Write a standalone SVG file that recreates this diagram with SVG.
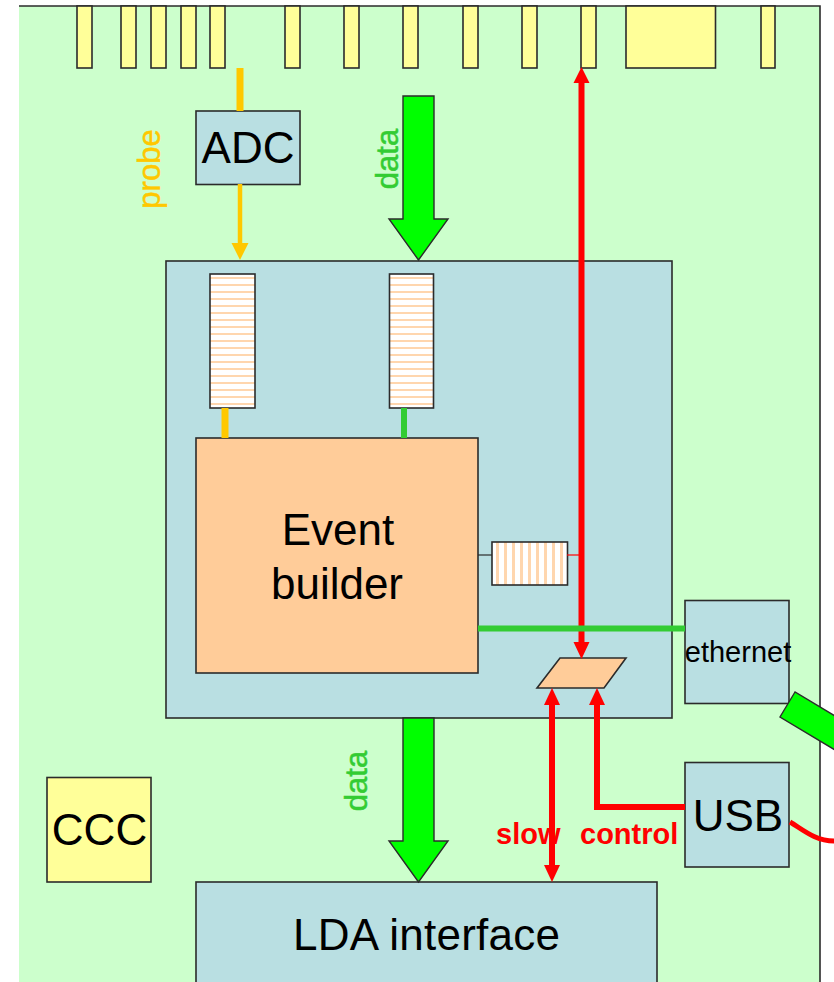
<svg xmlns="http://www.w3.org/2000/svg" width="834" height="982" viewBox="0 0 834 982">
<style>
text{font-family:"Liberation Sans",Arial,sans-serif;fill:#000}
.box{stroke:#2b2b2b;stroke-width:1.6}
.blue{fill:#B9DFE2}
.yellow{fill:#FFFF99}
.peach{fill:#FFCC99}
.big{font-size:44px;text-anchor:middle}
.lab{font-size:31px;text-anchor:middle;stroke-width:.5px}
.red{stroke:#FF0000;fill:none}
.redhead{fill:#FF0000}
.fat{fill:#00FF00;stroke:#2b2b2b;stroke-width:1.4}
</style>
<defs>
<pattern id="hstripe" patternUnits="userSpaceOnUse" x="0" y="274" width="10" height="7"><rect width="10" height="7" fill="#FFFFFF"/><rect y="3" width="10" height="2" fill="#FFD6AE"/></pattern>
<pattern id="vstripe" patternUnits="userSpaceOnUse" x="492" y="0" width="8" height="10"><rect width="8" height="10" fill="#FFFFFF"/><rect x="4" width="3" height="10" fill="#FFD6AE"/></pattern>
</defs>
<rect width="834" height="982" fill="#FFFFFF"/>
<g id="board">
<rect x="19" y="6" width="801" height="976" fill="#CCFFCC"/>
<path d="M19 6H820V982" fill="none" stroke="#2b2b2b" stroke-width="1.6"/>
</g>
<g id="pins">
<rect class="box yellow" x="77" y="6" width="15" height="62"/>
<rect class="box yellow" x="121" y="6" width="15" height="62"/>
<rect class="box yellow" x="151" y="6" width="15" height="62"/>
<rect class="box yellow" x="181" y="6" width="15" height="62"/>
<rect class="box yellow" x="210" y="6" width="15" height="62"/>
<rect class="box yellow" x="285" y="6" width="15" height="62"/>
<rect class="box yellow" x="344" y="6" width="15" height="62"/>
<rect class="box yellow" x="403" y="6" width="15" height="62"/>
<rect class="box yellow" x="463" y="6" width="15" height="62"/>
<rect class="box yellow" x="522" y="6" width="15" height="62"/>
<rect class="box yellow" x="581" y="6" width="15" height="62"/>
<rect class="box yellow" x="626" y="6" width="89.500" height="62"/>
<rect class="box yellow" x="761" y="6" width="14" height="62"/>
</g>
<g id="adc"><rect class="box blue" x="196" y="111" width="104" height="73.500"/><text class="big" x="248" y="163">ADC</text></g>
<g id="fpga"><rect class="box blue" x="166" y="261" width="506" height="457"/></g>
<g id="fifo-probe"><rect class="box" fill="url(#hstripe)" x="210" y="274" width="45" height="134"/></g>
<g id="fifo-data"><rect class="box" fill="url(#hstripe)" x="389.500" y="274" width="44" height="134"/></g>
<g id="event-builder"><rect class="box peach" x="196" y="438" width="282" height="235"/><text class="big" x="338" y="545">Event</text><text class="big" x="337" y="599" textLength="132">builder</text></g>
<g id="fifo-out"><rect class="box" fill="url(#vstripe)" x="492" y="542" width="75.500" height="43"/></g>
<g id="mux"><path class="box peach" d="M560 658H626L604 688H537Z"/></g>
<g id="ethernet"><rect class="box blue" x="685" y="600.500" width="104" height="103"/></g>
<g id="usb"><rect class="box blue" x="685" y="762.500" width="104" height="104.500"/><text class="big" x="738" y="831">USB</text></g>
<g id="ccc"><rect class="box yellow" x="47" y="777.500" width="104" height="104.500"/><text class="big" x="99.500" y="845">CCC</text></g>
<g id="lda"><rect class="box blue" x="196" y="882" width="461" height="110"/><text class="big" x="426.500" y="950" textLength="267">LDA interface</text></g>
<g id="connectors">
<path d="M240 68V111" stroke="#FFC800" stroke-width="7" fill="none"/>
<path d="M240 184V246" stroke="#FFC800" stroke-width="4.500" fill="none"/>
<path d="M231.500 243H248.500L240 260Z" fill="#FFC800"/>
<path d="M225 408V438" stroke="#FFC800" stroke-width="7" fill="none"/>
<path d="M404 408V438" stroke="#33CC33" stroke-width="6" fill="none"/>
<path class="fat" d="M403 96H434V219H448L418.500 260L389 219H403Z"/>
<path class="fat" d="M403 718H434V841H448L418.500 882L389 841H403Z"/>
<path d="M478 555H492" stroke="#2b2b2b" stroke-width="1.200" fill="none"/>
<path class="red" d="M567 555H581" stroke-width="1.200"/>
<path class="red" d="M581.500 82V645" stroke-width="6"/>
<path class="redhead" d="M581.500 67L589.500 83H573.500Z"/>
<path class="redhead" d="M581.500 659L573.500 642H589.500Z"/>
<path d="M478 628.500H685" stroke="#33CC33" stroke-width="6" fill="none"/>
<path class="red" d="M552 700V870" stroke-width="6"/>
<path class="redhead" d="M552 688L560 705H544Z"/>
<path class="redhead" d="M552 882L544 865H560Z"/>
<path class="red" d="M597 700V807H685" stroke-width="6"/>
<path class="redhead" d="M597 688L605 705H589Z"/>
<path class="red" d="M790 822C802 829 815 841 834 841" stroke-width="5"/>
<path class="fat" d="M795 692L780 717L860 765L875 740Z"/>
</g>
<g id="labels">
<text class="lab" transform="translate(160 169) rotate(-90)" style="fill:#FFC800;stroke:#FFC800">probe</text>
<text class="lab" transform="translate(398 159) rotate(-90)" style="fill:#33CC33;stroke:#33CC33">data</text>
<text class="lab" transform="translate(367 781) rotate(-90)" style="fill:#33CC33;stroke:#33CC33">data</text>
<text x="738" y="662" style="font-size:29px;text-anchor:middle">ethernet</text>
<text x="496" y="844" style="font-size:29px;font-weight:bold;fill:#FF0000">slow</text>
<text x="580" y="844" style="font-size:29px;font-weight:bold;fill:#FF0000">control</text>
</g>
</svg>
